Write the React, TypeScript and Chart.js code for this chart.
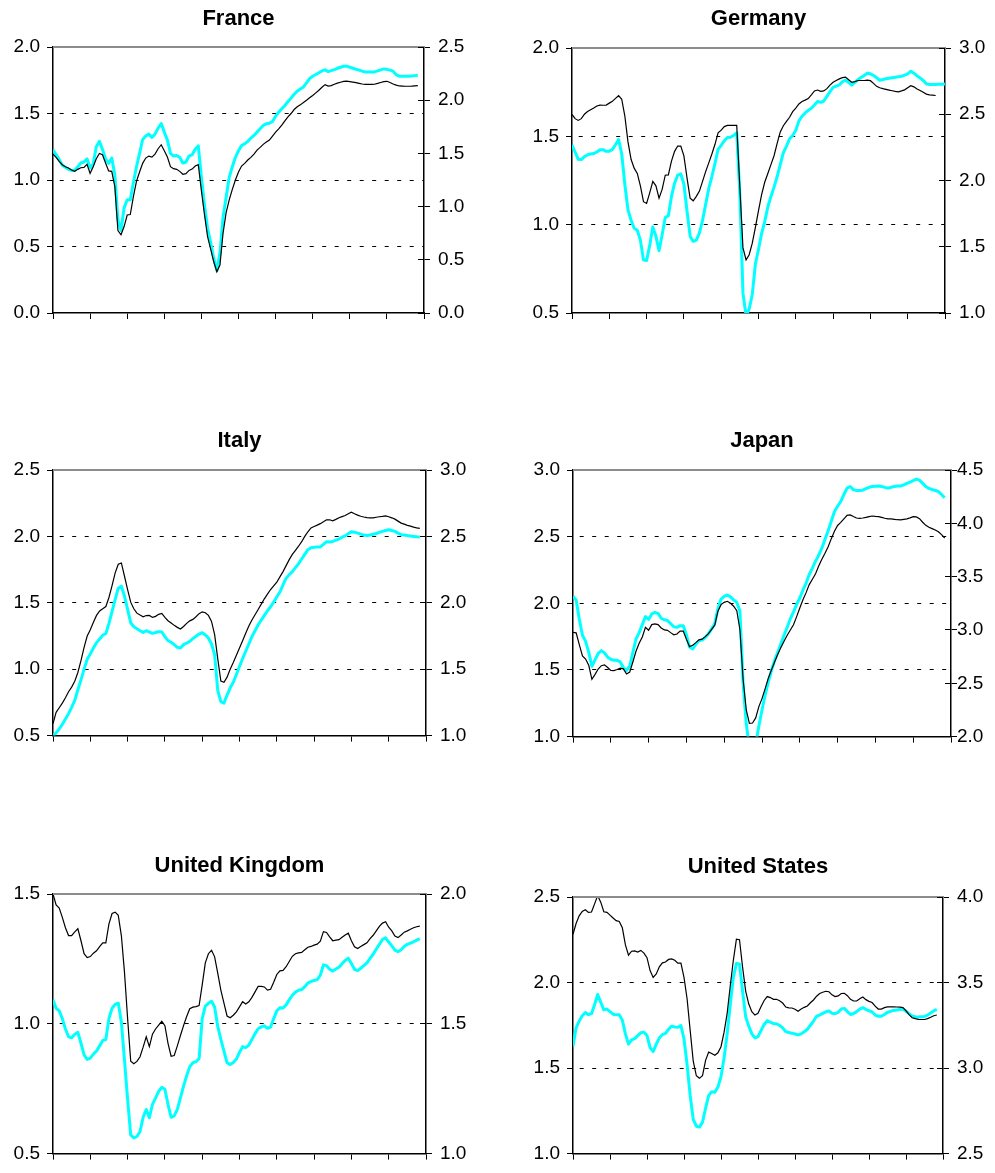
import { useEffect, useRef } from "react";
import { Chart, registerables } from "chart.js";

Chart.register(...registerables);

const FONT = "'Liberation Sans', Arial, Helvetica, sans-serif";

// Month index along the horizontal axis (ten years, tick every 12 months)
const months = Array.from({ length: 121 }, (_, i) => i);

// France: left-hand scale (black) and right-hand scale (cyan)
const franceLhs = [
  1.195, 1.17, 1.14, 1.115, 1.1, 1.09, 1.075, 1.065, 1.08, 1.092,
  1.095, 1.118, 1.05, 1.1, 1.16, 1.2, 1.19, 1.128, 1.068, 1.065,
  0.95, 0.62, 0.588, 0.65, 0.737, 0.74, 0.875, 0.99, 1.06, 1.125,
  1.165, 1.18, 1.172, 1.195, 1.235, 1.265, 1.22, 1.173, 1.1, 1.085,
  1.08, 1.065, 1.043, 1.048, 1.072, 1.082, 1.105, 1.115, 0.92, 0.74,
  0.575, 0.48, 0.385, 0.31, 0.36, 0.6, 0.755, 0.85, 0.93, 1.0,
  1.06, 1.105, 1.125, 1.15, 1.17, 1.195, 1.225, 1.245, 1.268, 1.285,
  1.3, 1.33, 1.36, 1.385, 1.413, 1.445, 1.474, 1.5, 1.53, 1.55,
  1.565, 1.583, 1.6, 1.618, 1.635, 1.655, 1.675, 1.697, 1.717, 1.706,
  1.71, 1.72, 1.728, 1.735, 1.742, 1.744, 1.74, 1.736, 1.732, 1.727,
  1.722, 1.719, 1.719, 1.719, 1.72, 1.726, 1.733, 1.74, 1.742, 1.733,
  1.722, 1.713, 1.707, 1.706, 1.705, 1.705, 1.706, 1.708, 1.709,
];
const franceRhs = [
  1.535, 1.488, 1.444, 1.388, 1.369, 1.35, 1.34, 1.34, 1.375, 1.41,
  1.419, 1.45, 1.363, 1.4, 1.563, 1.613, 1.538, 1.45, 1.406, 1.456,
  1.3, 0.875, 0.775, 0.988, 1.065, 1.065, 1.225, 1.375, 1.5, 1.631,
  1.663, 1.681, 1.65, 1.681, 1.738, 1.781, 1.7, 1.625, 1.5, 1.475,
  1.481, 1.463, 1.41, 1.419, 1.475, 1.488, 1.54, 1.57, 1.275, 1.013,
  0.794, 0.663, 0.513, 0.4, 0.563, 0.9, 1.088, 1.275, 1.375, 1.463,
  1.525, 1.573, 1.59, 1.613, 1.644, 1.669, 1.7, 1.731, 1.763, 1.778,
  1.784, 1.8, 1.85, 1.888, 1.919, 1.95, 1.988, 2.019, 2.056, 2.085,
  2.105, 2.125, 2.163, 2.203, 2.225, 2.241, 2.258, 2.275, 2.285, 2.269,
  2.278, 2.288, 2.3, 2.31, 2.319, 2.319, 2.31, 2.3, 2.291, 2.283,
  2.273, 2.265, 2.265, 2.265, 2.266, 2.275, 2.285, 2.294, 2.29, 2.283,
  2.273, 2.24, 2.226, 2.225, 2.224, 2.225, 2.228, 2.231, 2.234,
];

// Germany
const germanyLhs = [
  1.624, 1.6, 1.59, 1.6, 1.625, 1.64, 1.65, 1.66, 1.672, 1.677,
  1.676, 1.677, 1.688, 1.698, 1.715, 1.73, 1.71, 1.615, 1.47, 1.37,
  1.32, 1.29, 1.22, 1.13, 1.12, 1.18, 1.245, 1.22, 1.15, 1.2,
  1.28, 1.282, 1.36, 1.415, 1.445, 1.445, 1.389, 1.265, 1.15, 1.135,
  1.16, 1.19, 1.245, 1.3, 1.35, 1.4, 1.455, 1.52, 1.535, 1.555,
  1.562, 1.562, 1.562, 1.562, 1.21, 0.87, 0.8, 0.83, 0.895, 0.985,
  1.08, 1.17, 1.24, 1.29, 1.34, 1.39, 1.46, 1.525, 1.56, 1.585,
  1.608, 1.64, 1.66, 1.683, 1.697, 1.705, 1.714, 1.735, 1.757, 1.762,
  1.755, 1.757, 1.77, 1.79, 1.806, 1.816, 1.825, 1.832, 1.835, 1.82,
  1.806, 1.81, 1.816, 1.816, 1.816, 1.818, 1.815, 1.8, 1.783, 1.775,
  1.77, 1.766, 1.762, 1.758, 1.754, 1.752, 1.757, 1.763, 1.775, 1.787,
  1.78, 1.768, 1.759, 1.749, 1.739, 1.735, 1.733, 1.731,
];
const germanyRhs = [
  2.268, 2.215, 2.16, 2.158, 2.18, 2.195, 2.2, 2.203, 2.215, 2.232,
  2.233, 2.22, 2.22, 2.235, 2.27, 2.31, 2.2, 1.97, 1.78, 1.7,
  1.64, 1.625, 1.55, 1.4, 1.396, 1.51, 1.65, 1.58, 1.47, 1.59,
  1.72, 1.734, 1.88, 1.98, 2.04, 2.05, 1.972, 1.77, 1.58, 1.54,
  1.55, 1.605, 1.7, 1.82, 1.94, 2.03, 2.13, 2.235, 2.265, 2.3,
  2.325, 2.327, 2.34, 2.36, 1.897, 1.15, 0.98, 1.03, 1.14, 1.37,
  1.48, 1.6, 1.69, 1.8, 1.88, 1.95, 2.03, 2.12, 2.211, 2.26,
  2.315, 2.34, 2.38, 2.45, 2.485, 2.51, 2.53, 2.545, 2.57, 2.597,
  2.59, 2.6, 2.635, 2.67, 2.702, 2.712, 2.722, 2.745, 2.758, 2.74,
  2.72, 2.74, 2.76, 2.778, 2.793, 2.81, 2.805, 2.792, 2.775, 2.757,
  2.762, 2.768, 2.772, 2.776, 2.78, 2.783, 2.786, 2.795, 2.805, 2.825,
  2.81, 2.79, 2.774, 2.755, 2.73, 2.724, 2.724, 2.724, 2.726, 2.727,
  2.729,
];

// Italy
const italyLhs = [
  0.59, 0.675, 0.71, 0.745, 0.785, 0.83, 0.865, 0.91, 0.975, 1.065,
  1.165, 1.25, 1.297, 1.353, 1.405, 1.439, 1.455, 1.472, 1.54, 1.63,
  1.725, 1.79, 1.8, 1.7, 1.6, 1.505, 1.455, 1.422, 1.408, 1.395,
  1.404, 1.405, 1.39, 1.398, 1.413, 1.42, 1.39, 1.365, 1.348, 1.33,
  1.315, 1.303, 1.322, 1.345, 1.364, 1.375, 1.395, 1.418, 1.432, 1.425,
  1.405, 1.36, 1.26, 1.08, 0.91, 0.902, 0.94, 1.0, 1.05, 1.105,
  1.16, 1.215, 1.27, 1.325, 1.37, 1.41, 1.45, 1.49, 1.53, 1.565,
  1.6, 1.628, 1.655, 1.695, 1.735, 1.78, 1.825, 1.865, 1.895, 1.926,
  1.96, 2.0, 2.035, 2.064, 2.075, 2.085, 2.096, 2.11, 2.125, 2.125,
  2.117, 2.128, 2.14, 2.149, 2.157, 2.17, 2.182, 2.17, 2.16, 2.152,
  2.146, 2.142, 2.139, 2.14, 2.144, 2.148, 2.151, 2.155, 2.148, 2.14,
  2.13, 2.115, 2.1, 2.092, 2.083, 2.077, 2.07, 2.064, 2.06,
];
const italyRhs = [
  1.0, 1.02, 1.05, 1.085, 1.125, 1.165, 1.212, 1.265, 1.345, 1.42,
  1.5, 1.575, 1.615, 1.66, 1.7, 1.727, 1.755, 1.769, 1.845, 1.935,
  2.025, 2.11, 2.125, 2.05, 1.95, 1.85, 1.82, 1.805, 1.79, 1.777,
  1.79, 1.78, 1.77, 1.776, 1.783, 1.78, 1.745, 1.715, 1.703, 1.685,
  1.665, 1.66, 1.685, 1.696, 1.71, 1.73, 1.748, 1.765, 1.775, 1.758,
  1.735, 1.69, 1.61, 1.34, 1.256, 1.245, 1.305, 1.36, 1.402, 1.46,
  1.52, 1.58, 1.635, 1.69, 1.745, 1.79, 1.835, 1.87, 1.905, 1.94,
  1.97, 2.005, 2.045, 2.081, 2.135, 2.185, 2.212, 2.235, 2.265, 2.295,
  2.33, 2.365, 2.4, 2.415, 2.419, 2.42, 2.421, 2.44, 2.46, 2.457,
  2.462, 2.472, 2.48, 2.494, 2.504, 2.52, 2.535, 2.532, 2.525, 2.517,
  2.51, 2.506, 2.511, 2.516, 2.522, 2.53, 2.538, 2.545, 2.55, 2.544,
  2.538, 2.525, 2.513, 2.51, 2.506, 2.503, 2.5, 2.497, 2.495,
];

// Japan
const japanLhs = [
  1.782, 1.778, 1.69, 1.605, 1.582, 1.535, 1.43, 1.467, 1.507, 1.532,
  1.538, 1.518, 1.497, 1.495, 1.503, 1.513, 1.508, 1.47, 1.484, 1.56,
  1.64, 1.7, 1.747, 1.82, 1.798, 1.84, 1.846, 1.84, 1.815, 1.8,
  1.797, 1.78, 1.764, 1.77, 1.792, 1.792, 1.73, 1.675, 1.685, 1.705,
  1.726, 1.731, 1.75, 1.772, 1.805, 1.836, 1.94, 1.99, 2.007, 2.015,
  2.0, 1.978, 1.945, 1.8, 1.43, 1.2, 1.1, 1.102, 1.14, 1.225,
  1.285, 1.36, 1.438, 1.5, 1.56, 1.617, 1.668, 1.716, 1.76, 1.8,
  1.839, 1.9, 1.965, 2.027, 2.08, 2.14, 2.18, 2.222, 2.28, 2.33,
  2.375, 2.425, 2.485, 2.54, 2.584, 2.607, 2.633, 2.66, 2.663, 2.651,
  2.64, 2.637, 2.64, 2.644, 2.65, 2.655, 2.652, 2.65, 2.644, 2.638,
  2.634, 2.633, 2.63, 2.627, 2.626, 2.63, 2.633, 2.641, 2.65, 2.648,
  2.635, 2.608, 2.585, 2.57, 2.56, 2.55, 2.537, 2.515, 2.49,
];
const japanRhs = [
  3.314, 3.28, 3.1, 2.95, 2.893, 2.79, 2.66, 2.72, 2.78, 2.806,
  2.785, 2.745, 2.725, 2.715, 2.715, 2.7, 2.645, 2.62, 2.66, 2.79,
  2.915, 2.975, 3.05, 3.125, 3.098, 3.15, 3.164, 3.155, 3.11, 3.095,
  3.088, 3.06, 3.03, 3.025, 3.04, 3.04, 2.955, 2.84, 2.822, 2.865,
  2.9, 2.905, 2.93, 2.965, 3.01, 3.06, 3.2, 3.29, 3.315, 3.328,
  3.31, 3.283, 3.258, 3.175, 2.5, 2.12, 1.9, 1.86, 1.93, 2.1,
  2.25, 2.39, 2.51, 2.62, 2.715, 2.79, 2.87, 2.95, 3.025, 3.105,
  3.17, 3.24, 3.3, 3.375, 3.44, 3.52, 3.58, 3.645, 3.7, 3.767,
  3.85, 3.93, 4.02, 4.11, 4.16, 4.205, 4.27, 4.33, 4.345, 4.316,
  4.307, 4.308, 4.311, 4.326, 4.338, 4.345, 4.347, 4.35, 4.345, 4.337,
  4.33, 4.338, 4.345, 4.35, 4.35, 4.36, 4.375, 4.387, 4.4, 4.415,
  4.405, 4.375, 4.345, 4.327, 4.317, 4.308, 4.298, 4.27, 4.24,
];

// United Kingdom
const ukLhs = [
  1.5, 1.458, 1.446, 1.41, 1.37, 1.34, 1.34, 1.354, 1.366, 1.32,
  1.27, 1.255, 1.259, 1.272, 1.281, 1.297, 1.312, 1.312, 1.385, 1.425,
  1.43, 1.418, 1.339, 1.198, 1.021, 0.856, 0.846, 0.855, 0.873, 0.91,
  0.95, 0.912, 0.96, 0.98, 0.995, 1.01, 0.993, 0.925, 0.875, 0.878,
  0.915, 0.955, 0.993, 1.028, 1.058, 1.064, 1.066, 1.07, 1.15, 1.235,
  1.27, 1.283, 1.258, 1.195, 1.13, 1.08, 1.03, 1.023, 1.033, 1.046,
  1.065, 1.085, 1.076, 1.085, 1.102, 1.123, 1.144, 1.144, 1.142, 1.13,
  1.133, 1.16, 1.19, 1.204, 1.206, 1.22, 1.24, 1.26, 1.27, 1.273,
  1.275, 1.285, 1.295, 1.298, 1.303, 1.307, 1.318, 1.355, 1.352, 1.335,
  1.32, 1.322, 1.324, 1.333, 1.342, 1.349, 1.32, 1.297, 1.29, 1.298,
  1.305, 1.312, 1.328, 1.341, 1.358, 1.375, 1.388, 1.393, 1.372, 1.358,
  1.338, 1.332, 1.342, 1.353, 1.358, 1.364, 1.37, 1.374, 1.376,
];
const ukRhs = [
  1.593, 1.56, 1.55, 1.52, 1.48, 1.45, 1.446, 1.46, 1.467, 1.425,
  1.38, 1.363, 1.368, 1.383, 1.395, 1.415, 1.436, 1.439, 1.521, 1.56,
  1.575, 1.58, 1.506, 1.36, 1.21, 1.072, 1.06, 1.066, 1.085, 1.14,
  1.17, 1.138, 1.19, 1.215, 1.24, 1.255, 1.248, 1.19, 1.14, 1.145,
  1.17, 1.215, 1.26, 1.3, 1.335, 1.35, 1.354, 1.366, 1.52, 1.568,
  1.579, 1.587, 1.565, 1.49, 1.44, 1.395, 1.35, 1.343, 1.351, 1.364,
  1.39, 1.412, 1.408, 1.418, 1.44, 1.462, 1.481, 1.488, 1.492, 1.483,
  1.487, 1.52, 1.55, 1.562, 1.561, 1.573, 1.592, 1.61, 1.622, 1.629,
  1.632, 1.643, 1.657, 1.663, 1.667, 1.67, 1.687, 1.727, 1.724, 1.71,
  1.703, 1.711, 1.718, 1.731, 1.744, 1.753, 1.732, 1.71, 1.705, 1.714,
  1.724, 1.735, 1.752, 1.768, 1.788, 1.806, 1.825, 1.831, 1.815, 1.8,
  1.784, 1.778, 1.785, 1.798, 1.806, 1.811, 1.816, 1.822, 1.828,
];

// United States
const usLhs = [
  2.282, 2.345, 2.39, 2.416, 2.425, 2.41, 2.412, 2.46, 2.508, 2.47,
  2.414, 2.41, 2.394, 2.377, 2.362, 2.357, 2.32, 2.22, 2.16, 2.183,
  2.185, 2.178, 2.188, 2.172, 2.145, 2.07, 2.03, 2.05, 2.092, 2.115,
  2.12, 2.135, 2.138, 2.13, 2.113, 2.114, 2.03, 1.905, 1.72, 1.54,
  1.455, 1.44, 1.456, 1.545, 1.593, 1.585, 1.575, 1.589, 1.625, 1.71,
  1.82, 1.98, 2.13, 2.253, 2.25, 2.09, 1.95, 1.874, 1.83, 1.81,
  1.82, 1.86, 1.895, 1.918, 1.912, 1.902, 1.902, 1.893, 1.88, 1.857,
  1.852, 1.851, 1.844, 1.832, 1.845, 1.855, 1.863, 1.882, 1.898, 1.92,
  1.936, 1.943, 1.949, 1.946, 1.928, 1.918, 1.922, 1.936, 1.937, 1.923,
  1.902, 1.892, 1.892, 1.905, 1.915, 1.9, 1.89, 1.883, 1.862, 1.845,
  1.845, 1.853, 1.858, 1.858, 1.858, 1.857, 1.856, 1.853, 1.835, 1.812,
  1.794, 1.789, 1.785, 1.784, 1.784, 1.789, 1.797, 1.806, 1.81,
];
const usRhs = [
  3.127, 3.235, 3.275, 3.306, 3.325, 3.312, 3.318, 3.37, 3.43, 3.385,
  3.34, 3.345, 3.33, 3.315, 3.311, 3.311, 3.28, 3.2, 3.14, 3.165,
  3.172, 3.19, 3.206, 3.21, 3.19, 3.12, 3.096, 3.14, 3.176, 3.196,
  3.203, 3.227, 3.245, 3.24, 3.238, 3.249, 3.17, 3.02, 2.84, 2.7,
  2.66, 2.655, 2.684, 2.765, 2.84, 2.862, 2.858, 2.889, 2.95, 3.06,
  3.2, 3.37, 3.53, 3.611, 3.608, 3.45, 3.3, 3.245, 3.2, 3.176,
  3.184, 3.22, 3.255, 3.277, 3.268, 3.26, 3.259, 3.25, 3.235, 3.213,
  3.208, 3.204, 3.199, 3.194, 3.2, 3.212, 3.227, 3.25, 3.275, 3.303,
  3.31, 3.32, 3.328, 3.334, 3.32, 3.318, 3.326, 3.345, 3.349, 3.33,
  3.313, 3.319, 3.33, 3.345, 3.353, 3.343, 3.335, 3.328, 3.31, 3.303,
  3.303, 3.313, 3.326, 3.332, 3.337, 3.34, 3.343, 3.345, 3.332, 3.318,
  3.305, 3.3, 3.298, 3.3, 3.302, 3.31, 3.322, 3.334, 3.343,
];

type Box = { x: number; y: number; w: number; h: number };
type Area = { left: number; top: number; right: number; bottom: number };
type PanelSpec = {
  title: string;
  lhs: number[];
  rhs: number[];
  lhsRange: [number, number];
  rhsRange: [number, number];
  box: Box;
  area: Area;
  titleBaseline: number;
  rightLabelPad: number;
};

const panels: PanelSpec[] = [
  {
    title: "France", lhs: franceLhs, rhs: franceRhs, lhsRange: [0, 2], rhsRange: [0, 2.5],
    box: { x: 0, y: 0, w: 490, h: 335 }, area: { left: 53, top: 47, right: 424, bottom: 313 },
    titleBaseline: 25, rightLabelPad: 8,
  },
  {
    title: "Germany", lhs: germanyLhs, rhs: germanyRhs, lhsRange: [0.5, 2], rhsRange: [1, 3],
    box: { x: 505, y: 0, w: 490, h: 335 }, area: { left: 572, top: 48, right: 945, bottom: 313 },
    titleBaseline: 25, rightLabelPad: 8,
  },
  {
    title: "Italy", lhs: italyLhs, rhs: italyRhs, lhsRange: [0.5, 2.5], rhsRange: [1, 3],
    box: { x: 0, y: 420, w: 490, h: 335 }, area: { left: 53, top: 470, right: 426, bottom: 737 },
    titleBaseline: 447, rightLabelPad: 8,
  },
  {
    title: "Japan", lhs: japanLhs, rhs: japanRhs, lhsRange: [1, 3], rhsRange: [2, 4.5],
    box: { x: 505, y: 420, w: 490, h: 335 }, area: { left: 573, top: 470, right: 951, bottom: 737 },
    titleBaseline: 447, rightLabelPad: 0,
  },
  {
    title: "United Kingdom", lhs: ukLhs, rhs: ukRhs, lhsRange: [0.5, 1.5], rhsRange: [1, 2],
    box: { x: 0, y: 845, w: 490, h: 328 }, area: { left: 53, top: 894, right: 426, bottom: 1160 },
    titleBaseline: 872, rightLabelPad: 8,
  },
  {
    title: "United States", lhs: usLhs, rhs: usRhs, lhsRange: [1, 2.5], rhsRange: [2.5, 4],
    box: { x: 505, y: 845, w: 490, h: 328 }, area: { left: 573, top: 897, right: 943, bottom: 1160 },
    titleBaseline: 873, rightLabelPad: 8,
  },
];

// Bold heading centred over the plot area
const panelTitle = {
  id: "panelTitle",
  afterDraw(chart: any, _args: any, opts: any) {
    const { ctx, chartArea } = chart;
    ctx.save();
    ctx.font = `bold 22px ${FONT}`;
    ctx.fillStyle = "#000";
    ctx.textAlign = "center";
    ctx.textBaseline = "alphabetic";
    ctx.fillText(opts.text, (chartArea.left + chartArea.right) / 2, opts.baseline);
    ctx.restore();
  },
};

// Grey top edge of the plot frame and the inner half of the right-hand ticks
const plotFrame = {
  id: "plotFrame",
  afterDraw(chart: any) {
    const { ctx, chartArea: a } = chart;
    const rs = chart.scales.y1;
    ctx.save();
    ctx.strokeStyle = "#8c8c8c";
    ctx.lineWidth = 2;
    ctx.beginPath();
    ctx.moveTo(a.left, a.top);
    ctx.lineTo(a.right + 1, a.top);
    ctx.stroke();
    ctx.strokeStyle = "#000";
    ctx.lineWidth = 1;
    rs.ticks.forEach((t: any) => {
      const py = Math.round(rs.getPixelForValue(t.value) - 0.5) + 0.5;
      ctx.beginPath();
      ctx.moveTo(a.right - 6, py);
      ctx.lineTo(a.right, py);
      ctx.stroke();
    });
    ctx.restore();
  },
};

function buildConfig(p: PanelSpec): any {
  const { box, area } = p;
  const tickFont = { family: FONT, size: 19 };
  const [lMin, lMax] = p.lhsRange;
  const [rMin, rMax] = p.rhsRange;
  return {
    type: "line",
    data: {
      labels: months,
      datasets: [
        {
          data: p.lhs, yAxisID: "y", borderColor: "#000000", borderWidth: 1.2,
          pointRadius: 0, tension: 0, fill: false,
        },
        {
          data: p.rhs, yAxisID: "y1", borderColor: "#00FFFF", borderWidth: 3,
          pointRadius: 0, tension: 0, fill: false, borderJoinStyle: "round",
        },
      ],
    },
    options: {
      responsive: false,
      animation: false,
      devicePixelRatio: 1,
      events: [],
      layout: { padding: { top: area.top - box.y, left: 0, right: 0, bottom: 0 } },
      plugins: {
        legend: { display: false },
        tooltip: { enabled: false },
        title: { display: false },
        panelTitle: { text: p.title, baseline: p.titleBaseline - box.y },
      },
      scales: {
        x: {
          type: "linear", min: 0, max: 120,
          ticks: { stepSize: 12, callback: () => "", font: tickFont },
          grid: { drawOnChartArea: false, drawTicks: true, tickLength: 6, tickColor: "#000", tickWidth: 1 },
          border: { color: "#000", width: 1.5 },
          afterFit: (s: any) => { s.height = box.y + box.h - area.bottom; },
        },
        y: {
          position: "left", min: lMin, max: lMax,
          ticks: {
            stepSize: 0.5, color: "#000", font: tickFont, padding: 7,
            callback: (v: any) => Number(v).toFixed(1),
          },
          grid: {
            color: (c: any) =>
              c.tick && (c.tick.value <= lMin + 1e-9 || c.tick.value >= lMax - 1e-9) ? "rgba(0,0,0,0)" : "#000",
            lineWidth: 1, drawTicks: true, tickLength: 6, tickColor: "#000", tickWidth: 1,
          },
          border: { color: "#000", width: 1.5, dash: [4, 8.5], dashOffset: 6.3 },
          afterFit: (s: any) => { s.width = area.left - box.x; },
        },
        y1: {
          position: "right", min: rMin, max: rMax,
          ticks: {
            stepSize: 0.5, color: "#000", font: tickFont, padding: p.rightLabelPad,
            callback: (v: any) => Number(v).toFixed(1),
          },
          grid: { drawOnChartArea: false, drawTicks: true, tickLength: 6, tickColor: "#000", tickWidth: 1 },
          border: { color: "#000", width: 1.5 },
          afterFit: (s: any) => { s.width = box.x + box.w - area.right; },
        },
      },
    },
    plugins: [panelTitle, plotFrame],
  };
}

function Panel({ spec }: { spec: PanelSpec }) {
  const ref = useRef<HTMLCanvasElement>(null);
  useEffect(() => {
    if (!ref.current) return;
    const chart = new Chart(ref.current, buildConfig(spec));
    return () => chart.destroy();
  }, [spec]);
  return (
    <canvas
      ref={ref}
      width={spec.box.w}
      height={spec.box.h}
      style={{
        position: "absolute", left: spec.box.x, top: spec.box.y,
        width: spec.box.w, height: spec.box.h, display: "block",
      }}
    />
  );
}

export default function App() {
  return (
    <div style={{ position: "absolute", left: 0, top: 0, width: 995, height: 1173, background: "#fff" }}>
      {panels.map((p) => (
        <Panel key={p.title} spec={p} />
      ))}
    </div>
  );
}
